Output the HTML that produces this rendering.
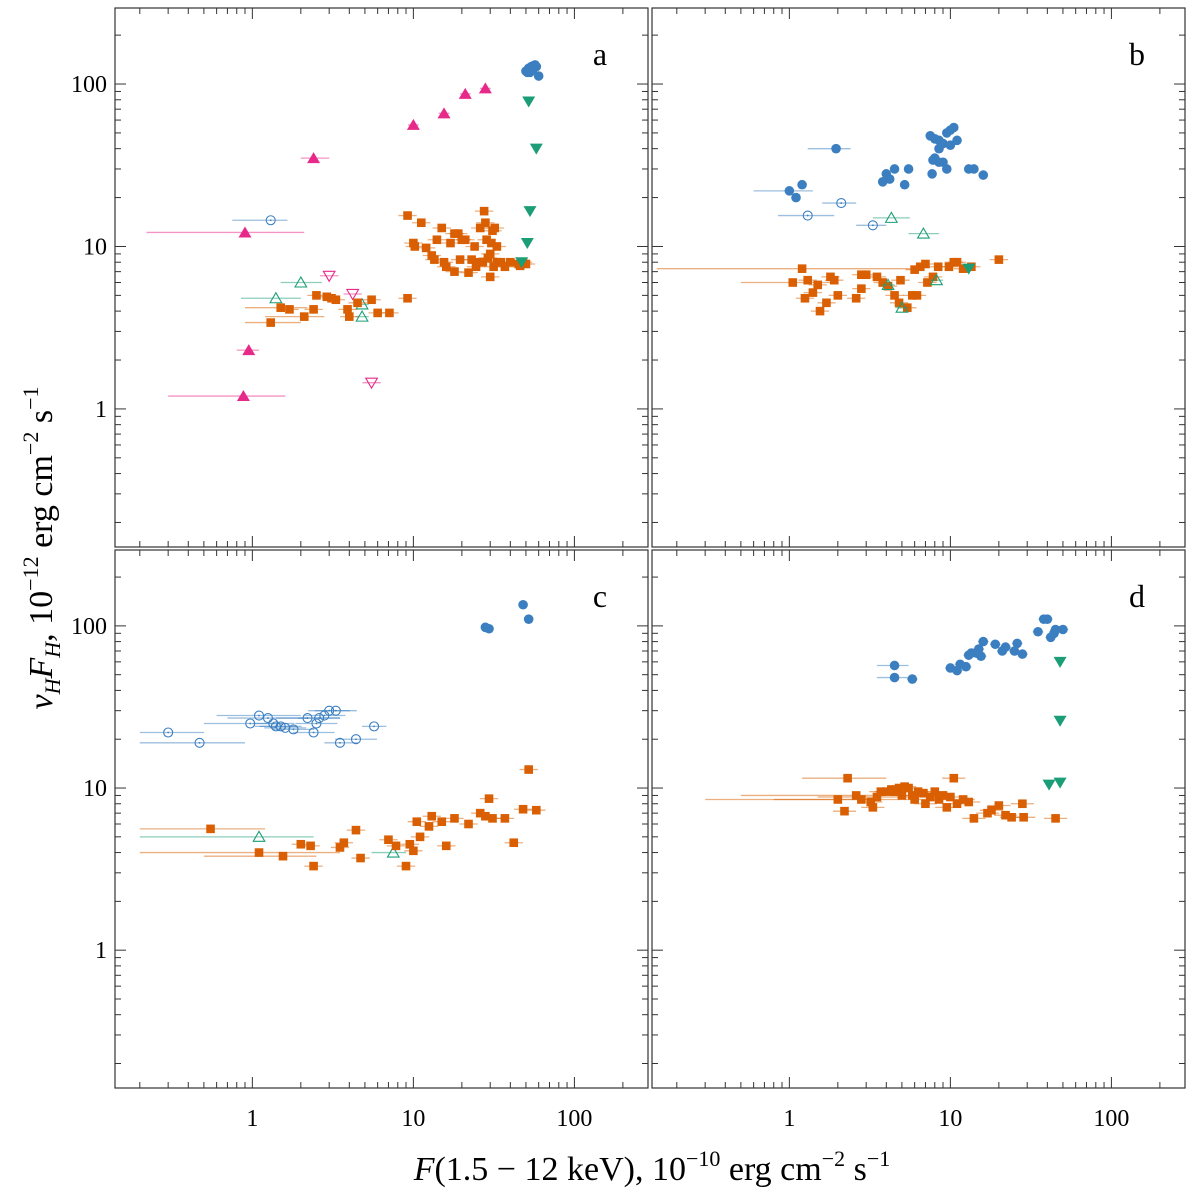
<!DOCTYPE html>
<html><head><meta charset="utf-8"><style>
html,body{margin:0;padding:0;background:#fff;}
svg{display:block;font-family:"Liberation Serif",serif;}
</style></head><body>
<svg id="chart" width="1200" height="1202" xmlns="http://www.w3.org/2000/svg">
<text transform="translate(52,548) rotate(-90)" text-anchor="middle" font-size="34"><tspan font-style="italic">ν</tspan><tspan font-style="italic" font-size="22" dy="8">H</tspan><tspan font-style="italic" dy="-8">F</tspan><tspan font-style="italic" font-size="22" dy="8">H</tspan><tspan dy="-8">, 10</tspan><tspan font-size="22" dy="-14">−12</tspan><tspan dy="14"> erg cm</tspan><tspan font-size="22" dy="-14">−2</tspan><tspan dy="14"> s</tspan><tspan font-size="22" dy="-14">−1</tspan></text>
<text x="652" y="1180" text-anchor="middle" font-size="34"><tspan font-style="italic">F</tspan><tspan>(1.5 − 12 keV), 10</tspan><tspan font-size="22" dy="-14">−10</tspan><tspan dy="14"> erg cm</tspan><tspan font-size="22" dy="-14">−2</tspan><tspan dy="14"> s</tspan><tspan font-size="22" dy="-14">−1</tspan></text>
</svg>
<script>
// data: [x, y, xlo, xhi] (xlo/xhi optional)
const aBlueFilled=[[50,120],[52,125],[54,128],[56,130],[58,128],[53,118],[55,122],[60,112],[51,118],[57,131]];
const aGreenDown=[[52,78],[58,40],[53,16.5],[51,10.5],[47,8]];
const aMagentaUp=[[0.9,12.2,0.22,2.1],[2.4,35,2.0,3.0],[10,56],[15.5,66],[21,87],[28,94],[0.95,2.3,0.8,1.1],[0.88,1.2,0.3,1.6]];
const aMagentaOpenDown=[[3,6.6],[4.2,5.1],[5.5,1.45]];
const aBlueOpen=[[1.3,14.5,0.75,1.65]];
const aGreenOpenUp=[[1.4,4.8,0.85,2.0],[2,6,1.5,2.7],[4.8,4.4],[4.8,3.7]];
const aOrange=[[1.3,3.4,0.9,2.0],[1.5,4.2,0.9,2.2],[1.7,4.1],[2.1,3.7,1.2,2.8],[2.4,4.1],[2.5,5],[2.9,4.9,2.4,3.5],[3.3,4.7],[3.1,4.8],[3.9,4.1],[4,3.7],[4.5,4.5],[5.5,4.7],[6,3.9],[7.1,3.9],[9.2,4.8],
[9.2,15.5],[10,10.5],[10.2,10],[11.2,14],[12,9.8],[13,8.8],[13.5,8.3],[14,11],[15,13],[15.5,8],[16,7.5],[17,10.5],[18,12],[19,12],[20,11],[19.5,8.3],[18,7],[21,11],[22,6.9],[23,8.3],[24,10],[24.5,7.5],[25,8],[26,13],[27,8],[27.5,16.5],[28,14],[28.5,11],[29,8.5],[30,9],[30.5,10.5],[31,12.5],[32,13],[31.5,7.5],[30,6.5],[33,10],[33,8],[35,8],[37,7.5],[40,8],[45,7.8],[48,8],[50,7.8],[46,7.6]];

const bBlueFilled=[[1.95,40,1.3,2.4],[1.0,22,0.6,1.4],[1.2,24],[1.1,20],[3.8,25],[4,28],[4.2,26],[4.5,30],[5.2,24],[5.5,30],[7.5,48],[8,46],[8.5,45],[9,43],[9.5,50],[10,52],[10.5,54],[8.5,40],[8,35],[8.5,33],[7.7,28],[9.5,30],[10,42],[11,45],[13,30],[14,30],[16,27.5],[7.8,34],[9,33]];
const bBlueOpen=[[1.3,15.5,0.85,1.9],[2.1,18.5,1.6,2.6],[3.3,13.5,2.6,4.0]];
const bGreenOpenUp=[[4.3,15,3.3,5.6],[6.8,12,5.5,8.5],[4.1,5.8],[5,4.2],[8.2,6.2]];
const bGreenDown=[[13,7.3]];
const bOrange=[[1.2,7.3,0.15,6],[1.05,6,0.5,2],[1.3,6.2],[1.4,5.2],[1.5,5.8],[1.8,6.5],[1.9,6.2],[2.0,5],[1.7,4.5],[1.55,4],[1.25,4.8],[2.6,4.8],[2.8,5.5],[3,6.7],[3.5,6.5],[3.8,6],[4.1,5.7],[4.5,5],[4.8,4.5],[5.4,4.2],[5.8,5],[6.2,5],[6.5,7.5],[7,7.8],[7.2,6],[7.8,6.5],[8.4,7.5],[9.8,7.5],[10.5,8],[11,8],[12,7.3],[13.5,7.5],[20,8.3],[6,7.2],[2.8,6.7],[4.9,6.2]];

const cBlueFilled=[[28,98],[29.5,96],[48,135],[52,110]];
const cBlueOpen=[[0.3,22,0.2,0.5],[0.47,19,0.2,0.9],[0.97,25,0.5,1.6],[1.1,28,0.6,2.0],[1.25,27,0.7,2.2],[1.35,25],[1.4,24],[1.5,24],[1.6,23.5],[1.8,23],[2.2,27,1.4,3.5],[2.4,22],[2.5,25],[2.6,27],[2.8,28],[3,30],[3.3,30],[3.5,19,2.8,4.5],[4.4,20],[5.7,24,4.8,6.8]];
const cGreenOpenUp=[[1.1,5,0.2,2.4],[7.5,4,5.5,9]];
const cOrange=[[0.55,5.6,0.2,1.2],[1.1,4,0.2,3.5],[1.55,3.8,0.5,2.5],[2,4.5],[2.3,4.4],[2.4,3.3],[3.5,4.3],[3.7,4.6],[4.4,5.5],[4.7,3.7],[7,4.8],[7.8,4.4],[9,3.3],[9.5,4.5],[10,4.1],[10.5,6.2],[11,5],[12.5,5.8],[13,6.7],[16,4.4],[15,6.2],[18,6.5],[22,6],[26,7],[28,6.7],[29.5,8.6],[31,6.5],[37,6.5],[42,4.6],[48,7.4],[52,13],[58,7.3]];

const dBlueFilled=[[4.5,57,3.5,5.5],[4.5,48,3.5,5.5],[5.8,47],[10,55],[11,53],[11.5,58],[12.5,56],[13,66],[13.5,68],[14.5,68],[15,72],[15.5,65],[16,80],[19,77],[21,70],[22,74],[25,70],[26,78],[28,67],[35,92],[38,110],[40,110],[42,85],[44,90],[45,95],[50,95]];
const dGreenDown=[[48,60],[48,26],[48,10.8],[41,10.5]];
const dOrange=[[2.3,11.5,1.2,4],[2.6,9,0.5,4],[2.8,8.5,0.3,5],[3.2,8.2],[3.5,8.8,1.5,6],[3.7,9.5],[4.0,9.5],[4.3,9.8],[4.5,9.5],[4.8,10],[5,9],[5.2,10.2],[5.5,10],[5.8,9],[6,8.5],[6.3,9.5],[6.8,9.3],[7,8],[7.5,8.8],[8,9.5],[8.5,8.5],[9,9],[9.5,7.6],[10,8.8],[10.5,11.5],[11,8],[12,8.5],[13,8.2],[14,6.5],[17,7],[18,7.3],[20,7.8],[22,6.8],[24,6.6],[28,8],[28.5,6.6],[45,6.5],[2.0,8.5,0.8,3.5],[2.2,7.2],[3.3,7.6]];

const xTickLabels=["1","10","100"];
const yTickLabels=["1","10","100"];
const panelLetters=["a","b","c","d"];

const BLUE="#3b7fc0",ORANGE="#d95f02",GREEN="#1b9e77",MAG="#e7298a";
const NS="http://www.w3.org/2000/svg";
const svg=document.getElementById('chart');
const panels=[
 {x0:115,x1:648,y0:8,y1:547,lx:false,ly:true,id:"a"},
 {x0:652,x1:1185,y0:8,y1:547,lx:false,ly:false,id:"b"},
 {x0:115,x1:648,y0:550,y1:1088,lx:true,ly:true,id:"c"},
 {x0:652,x1:1185,y0:550,y1:1088,lx:true,ly:false,id:"d"}];
const XL=[-0.853,2.457],YL=[-0.85,2.468];
function mk(t,a,p){const e=document.createElementNS(NS,t);for(const k in a)e.setAttribute(k,a[k]);(p||svg).appendChild(e);return e;}
function xs(p,v){return p.x0+(Math.log10(v)-XL[0])/(XL[1]-XL[0])*(p.x1-p.x0);}
function ys(p,v){return p.y1-(Math.log10(v)-YL[0])/(YL[1]-YL[0])*(p.y1-p.y0);}

function drawAxes(p,i){
 const g=mk('g',{});
 
 
 const r=mk('rect',{x:p.x0,y:p.y0,width:p.x1-p.x0,height:p.y1-p.y0,fill:'none',stroke:'#333','stroke-width':1.2},g);
 
 
 for(let d=-1;d<=2;d++){for(let m=1;m<=9;m++){
   const v=m*Math.pow(10,d);const lv=Math.log10(v);
   const L=m===1?11:6;
   if(lv>XL[0]&&lv<XL[1]){const x=xs(p,v);
     mk('line',{x1:x,x2:x,y1:p.y1,y2:p.y1-L,stroke:'#333'},g);
     mk('line',{x1:x,x2:x,y1:p.y0,y2:p.y0+L,stroke:'#333'},g);}
   if(lv>YL[0]&&lv<YL[1]){const y=ys(p,v);
     mk('line',{x1:p.x0,x2:p.x0+L,y1:y,y2:y,stroke:'#333'},g);
     mk('line',{x1:p.x1,x2:p.x1-L,y1:y,y2:y,stroke:'#333'},g);}
 }}
 if(p.lx){xTickLabels.forEach(s=>{const t=mk('text',{x:xs(p,+s),y:p.y1+38,'text-anchor':'middle','font-size':24},g);t.textContent=s;
   });}
 if(p.ly){yTickLabels.forEach(s=>{const t=mk('text',{x:p.x0-8,y:ys(p,+s)+8,'text-anchor':'end','font-size':24},g);t.textContent=s;
   });}
 const lt=mk('text',{x:p.x1-48,y:p.y0+57,'text-anchor':'middle','font-size':32},g);lt.textContent=panelLetters[i];
 
}

function series(p,data,shape,color,name,defErr){
 const g=mk('g',{});
 
 
 data.forEach(d=>{
  const x=xs(p,d[0]),y=ys(p,d[1]);
  const lo=d[2]!==undefined?d[2]:d[0]/defErr, hi=d[3]!==undefined?d[3]:d[0]*defErr;
  const eb=mk('line',{x1:xs(p,lo),x2:xs(p,hi),y1:y,y2:y,stroke:color,'stroke-opacity':0.5,'stroke-width':1.3},g);
  
  
  let m;
  if(shape==='circle')m=mk('circle',{cx:x,cy:y,r:4.8,fill:color},g);
  else if(shape==='ocircle'){m=mk('circle',{cx:x,cy:y,r:4.5,fill:'none',stroke:color,'stroke-width':1.1},g);mk('circle',{cx:x,cy:y,r:0.9,fill:color},g);}
  else if(shape==='square')m=mk('rect',{x:x-4.3,y:y-4.3,width:8.6,height:8.6,fill:color},g);
  else if(shape==='up')m=mk('polygon',{points:`${x},${y-6} ${x-6.5},${y+5} ${x+6.5},${y+5}`,fill:color},g);
  else if(shape==='oup')m=mk('polygon',{points:`${x},${y-5.5} ${x-5.8},${y+4.5} ${x+5.8},${y+4.5}`,fill:'none',stroke:color,'stroke-width':1.1},g);
  else if(shape==='down')m=mk('polygon',{points:`${x},${y+6} ${x-6.5},${y-5} ${x+6.5},${y-5}`,fill:color},g);
  else if(shape==='odown')m=mk('polygon',{points:`${x},${y+5.5} ${x-5.8},${y-4.5} ${x+5.8},${y-4.5}`,fill:'none',stroke:color,'stroke-width':1.1},g);
  
  
 });
}
panels.forEach((p,i)=>drawAxes(p,i));
const [A,B,C,D]=panels;
series(A,aMagentaUp,'up',MAG,'a-magenta-triangles',1.08);
series(A,aMagentaOpenDown,'odown',MAG,'a-magenta-open-triangles',1.14);
series(A,aBlueOpen,'ocircle',BLUE,'a-blue-open-circles',1.2);
series(A,aGreenOpenUp,'oup',GREEN,'a-green-open-triangles',1.1);
series(A,aOrange,'square',ORANGE,'a-orange-squares',1.14);
series(A,aBlueFilled,'circle',BLUE,'a-blue-circles',1.02);
series(A,aGreenDown,'down',GREEN,'a-green-triangles',1.02);
series(B,bOrange,'square',ORANGE,'b-orange-squares',1.14);
series(B,bBlueOpen,'ocircle',BLUE,'b-blue-open-circles',1.2);
series(B,bGreenOpenUp,'oup',GREEN,'b-green-open-triangles',1.1);
series(B,bBlueFilled,'circle',BLUE,'b-blue-circles',1.05);
series(B,bGreenDown,'down',GREEN,'b-green-triangles',1.03);
series(C,cBlueOpen,'ocircle',BLUE,'c-blue-open-circles',1.35);
series(C,cGreenOpenUp,'oup',GREEN,'c-green-open-triangles',1.1);
series(C,cOrange,'square',ORANGE,'c-orange-squares',1.14);
series(C,cBlueFilled,'circle',BLUE,'c-blue-circles',1.02);
series(D,dOrange,'square',ORANGE,'d-orange-squares',1.18);
series(D,dBlueFilled,'circle',BLUE,'d-blue-circles',1.08);
series(D,dGreenDown,'down',GREEN,'d-green-triangles',1.02);
</script>
</body></html>
